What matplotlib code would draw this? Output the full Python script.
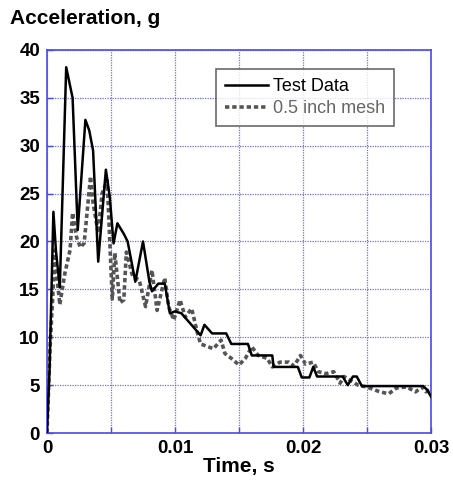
import matplotlib
matplotlib.use("Agg")
import matplotlib.pyplot as plt
from matplotlib.ticker import MultipleLocator, FixedLocator

plt.rcParams['font.family'] = ['Liberation Sans', 'DejaVu Sans']

# Test Data (black solid)
t_test = [0, 0.0002, 0.0005, 0.0007, 0.0010, 0.0015, 0.0020, 0.0024, 0.0030, 0.0033,
          0.0036, 0.0040, 0.0046, 0.0049, 0.0052, 0.0055, 0.0060, 0.0063, 0.0069, 0.0075,
          0.0080, 0.0082, 0.0087, 0.0092, 0.0096, 0.0100, 0.0105, 0.0120, 0.0123, 0.0129,
          0.0140, 0.0144, 0.0157, 0.0160, 0.0176, 0.0177, 0.0196, 0.0199, 0.0205, 0.0208,
          0.0211, 0.0231, 0.0235, 0.0239, 0.0242, 0.0246, 0.0294, 0.0297, 0.0300]
a_test = [0, 6.6, 23.1, 19.0, 15.2, 38.2, 35.0, 21.2, 32.7, 31.6,
          29.5, 17.9, 27.5, 24.7, 19.8, 21.9, 20.8, 20.0, 15.8, 20.0,
          15.8, 14.8, 15.6, 15.6, 12.5, 12.7, 12.5, 10.2, 11.3, 10.4,
          10.4, 9.3, 9.3, 8.1, 8.1, 6.9, 6.9, 5.8, 5.8, 6.9,
          5.9, 5.9, 5.0, 5.9, 5.9, 4.9, 4.9, 4.5, 3.8]

# 0.5 inch mesh (gray dashed)
t_mesh = [0, 0.00023, 0.0005, 0.00063, 0.0008, 0.0010, 0.0014, 0.0018, 0.0020, 0.0023,
          0.0026, 0.0029, 0.0034, 0.0036, 0.0040, 0.0043, 0.0047, 0.0049, 0.0051, 0.0053,
          0.0057, 0.0060, 0.0062, 0.0067, 0.0072, 0.0077, 0.0082, 0.0086, 0.0092, 0.0095,
          0.0099, 0.0104, 0.0108, 0.0113, 0.0118, 0.0120, 0.0130, 0.0136, 0.0139, 0.0144,
          0.0150, 0.0155, 0.0160, 0.0165, 0.0172, 0.0176, 0.0182, 0.0189, 0.0193, 0.0198,
          0.0202, 0.0208, 0.0212, 0.0218, 0.0224, 0.0229, 0.0232, 0.0237, 0.0243, 0.0250,
          0.0260, 0.0267, 0.0273, 0.0281, 0.0288, 0.0293, 0.0296, 0.0300]
a_mesh = [0, 8.7, 15.6, 19.1, 16.0, 13.4, 16.7, 19.1, 23.0, 20.5,
          19.4, 19.8, 26.8, 24.0, 20.9, 25.0, 26.4, 20.2, 14.0, 18.8,
          13.6, 13.9, 18.9, 16.3, 16.0, 13.2, 17.0, 12.8, 16.2, 13.2,
          11.8, 13.9, 12.1, 13.0, 10.2, 9.3, 8.8, 9.7, 8.3, 7.8,
          7.1, 7.8, 9.0, 8.1, 7.8, 6.9, 7.4, 7.4, 7.0, 8.1,
          7.2, 7.4, 6.4, 6.2, 6.4, 5.2, 5.9, 5.5, 5.0, 4.8,
          4.3, 4.1, 4.7, 4.8, 4.3, 4.8, 4.3, 4.6]

x_ticklabels = ['0', '0.01', '0.02', '0.03']
x_tickvals = [0, 0.01, 0.02, 0.03]

fig = plt.figure(figsize=(4.53, 4.83), dpi=100)
ax = fig.add_axes([47/453, 1-433/483, 384/453, 383/483])

blue = '#4a4ae6'
ax.plot(t_test, a_test, color='black', lw=1.8, label='Test Data', zorder=3)
ax.plot(t_mesh, a_mesh, color='#555555', lw=2.6, ls=(0, (1.2, 0.8)), label='0.5 inch mesh', zorder=2)

ax.set_xlim(0, 0.03)
ax.set_ylim(0, 40)
ax.set_xticks(x_tickvals)
ax.set_xticks([0.005, 0.015, 0.025], minor=True)
ax.set_xticklabels(x_ticklabels)
ax.yaxis.set_major_locator(MultipleLocator(5))
ax.grid(True, which='both', color=blue, ls=(0, (1, 1)), lw=0.9, alpha=0.8)
for s in ax.spines.values():
    s.set_color(blue)
    s.set_linewidth(1.2)
ax.tick_params(which='both', direction='in', colors=blue, length=4, width=1.0,
               labelcolor='black', labelsize=13.5, pad=5)
for lab in ax.get_xticklabels() + ax.get_yticklabels():
    lab.set_fontweight('bold')

ax.set_xlabel('Time, s', fontsize=15, fontweight='bold', labelpad=0)
fig.text(10/453, 1-18/483, 'Acceleration, g', fontsize=15, fontweight='bold',
         ha='left', va='center')

leg = ax.legend(loc='upper left', bbox_to_anchor=((216-47)/384, (433-69)/383),
                fontsize=13, frameon=True, fancybox=False, shadow=False,
                handlelength=2.4, handletextpad=0.25, borderpad=0.5,
                labelspacing=0.3, borderaxespad=0)
leg.get_frame().set_edgecolor('#444444')
leg.get_frame().set_linewidth(1.2)
leg.get_texts()[1].set_color('#666666')

fig.savefig('out.png', dpi=100)
